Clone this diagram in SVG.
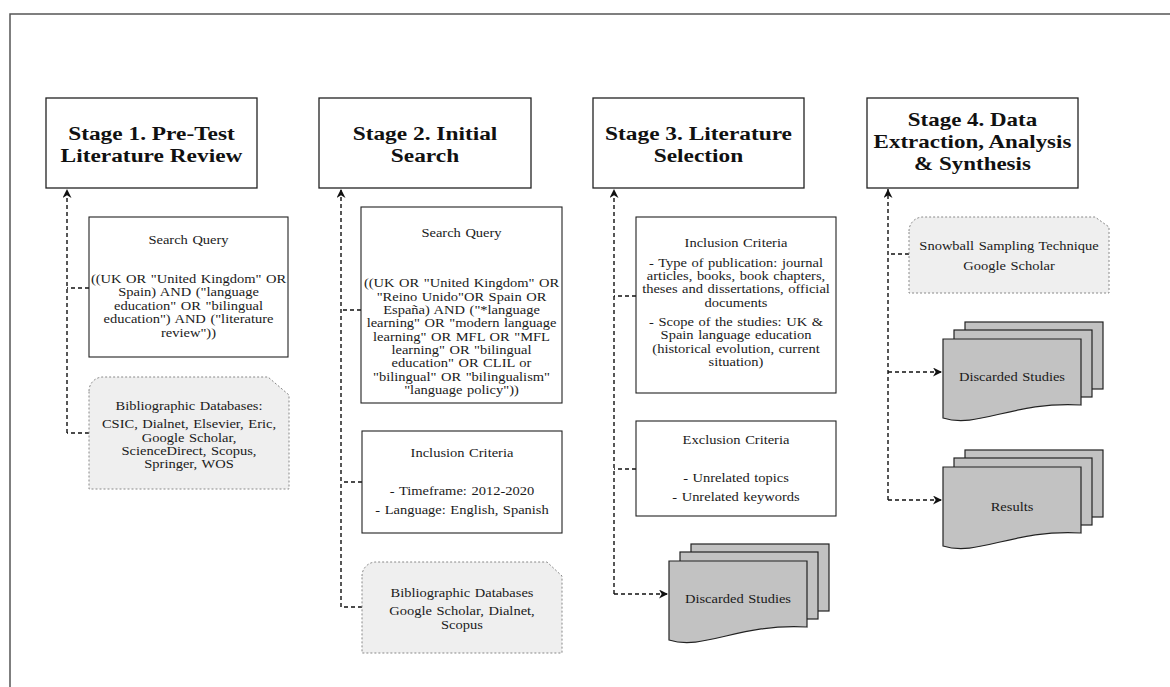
<svg xmlns="http://www.w3.org/2000/svg" xmlns:xlink="http://www.w3.org/1999/xlink" width="1170" height="687" viewBox="0 0 1170 687">
<style>
.frame{fill:none;stroke:#555;stroke-width:1.5}
.stage{fill:#fff;stroke:#222;stroke-width:1.3}
.box{fill:#fff;stroke:#222;stroke-width:1.1}
.note{fill:#efefef;stroke:#888;stroke-width:1;stroke-dasharray:2 2}
.doc{fill:#c2c2c2;stroke:#222;stroke-width:1.2}
.title{font-family:"Liberation Serif","Times New Roman",serif;font-weight:bold;font-size:19.8px;fill:#111;text-anchor:middle}
.t{font-family:"Liberation Serif","Times New Roman",serif;font-size:12.4px;fill:#1a1a1a;text-anchor:middle;word-spacing:0.8px}
.edge{fill:none;stroke:#111;stroke-width:1.4;stroke-dasharray:4 3}
</style>
<defs>
<marker id="arr" markerUnits="userSpaceOnUse" markerWidth="11" markerHeight="9" viewBox="0 0 10 10" refX="10" refY="5" orient="auto">
<path d="M0,0 L10,5 L0,10 L3,5 Z" fill="#111"/>
</marker>
<g id="stack">
<rect class="doc" x="22" y="-17" width="138" height="67"/>
<rect class="doc" x="11" y="-9" width="138" height="67"/>
<path class="doc" d="M0,0 H138 V66 C70,62 35,90 0,79 Z"/>
</g>
</defs>
<rect class="frame" x="10" y="14" width="1200" height="700"/>

<g id="connectors">
<path class="edge" d="M67,433 V189" marker-end="url(#arr)"/>
<path class="edge" d="M89,288 H67"/>
<path class="edge" d="M89,433 H67"/>
<path class="edge" d="M341,607 V189" marker-end="url(#arr)"/>
<path class="edge" d="M361,310 H341"/>
<path class="edge" d="M362,482 H341"/>
<path class="edge" d="M362,607 H341"/>
<path class="edge" d="M614,594 V189" marker-end="url(#arr)"/>
<path class="edge" d="M636,296 H614"/>
<path class="edge" d="M636,469 H614"/>
<path class="edge" d="M614,594 H668" marker-end="url(#arr)"/>
<path class="edge" d="M888,500 V189" marker-end="url(#arr)"/>
<path class="edge" d="M909,254 H888"/>
<path class="edge" d="M888,372 H942" marker-end="url(#arr)"/>
<path class="edge" d="M888,500 H942" marker-end="url(#arr)"/>
</g>

<g id="stage1">
<rect class="stage" x="46" y="98" width="211" height="90"/>
<g transform="translate(151.5 0) scale(1.18 1)">
<text class="title" x="0" y="140">Stage 1. Pre-Test</text>
<text class="title" x="0" y="162">Literature Review</text>
</g>
</g>
<g id="stage2">
<rect class="stage" x="319" y="98" width="212" height="90"/>
<g transform="translate(425 0) scale(1.18 1)">
<text class="title" x="0" y="140">Stage 2. Initial</text>
<text class="title" x="0" y="162">Search</text>
</g>
</g>
<g id="stage3">
<rect class="stage" x="593" y="98" width="211" height="90"/>
<g transform="translate(698.5 0) scale(1.18 1)">
<text class="title" x="0" y="140">Stage 3. Literature</text>
<text class="title" x="0" y="162">Selection</text>
</g>
</g>
<g id="stage4">
<rect class="stage" x="867" y="98" width="211" height="90"/>
<g transform="translate(972.5 0) scale(1.16 1)">
<text class="title" x="0" y="126">Stage 4. Data</text>
<text class="title" x="0" y="148">Extraction, Analysis</text>
<text class="title" x="0" y="170">&amp; Synthesis</text>
</g>
</g>

<g id="query1">
<rect class="box" x="89" y="217" width="199" height="140"/>
<g transform="translate(188.5 0) scale(1.17 1)">
<text class="t" x="0" y="244">Search Query</text>
<text class="t" x="0" y="283">((UK OR "United Kingdom" OR</text>
<text class="t" x="0" y="296">Spain) AND ("language</text>
<text class="t" x="0" y="310">education" OR "bilingual</text>
<text class="t" x="0" y="323">education") AND ("literature</text>
<text class="t" x="0" y="337">review"))</text>
</g>
</g>
<g id="biblio1">
<path class="note" d="M89,391 A14,14 0 0 1 103,377 H268 L289,395 V489 H89 Z"/>
<g transform="translate(189 0) scale(1.17 1)">
<text class="t" x="0" y="410">Bibliographic Databases:</text>
<text class="t" x="0" y="428">CSIC, Dialnet, Elsevier, Eric,</text>
<text class="t" x="0" y="442">Google Scholar,</text>
<text class="t" x="0" y="455">ScienceDirect, Scopus,</text>
<text class="t" x="0" y="468">Springer, WOS</text>
</g>
</g>

<g id="query2">
<rect class="box" x="361" y="207" width="201" height="196"/>
<g transform="translate(461.5 0) scale(1.17 1)">
<text class="t" x="0" y="237">Search Query</text>
<text class="t" x="0" y="287">((UK OR "United Kingdom" OR</text>
<text class="t" x="0" y="301">"Reino Unido"OR Spain OR</text>
<text class="t" x="0" y="314">España) AND ("*language</text>
<text class="t" x="0" y="327">learning" OR "modern language</text>
<text class="t" x="0" y="341">learning" OR MFL OR "MFL</text>
<text class="t" x="0" y="354">learning" OR "bilingual</text>
<text class="t" x="0" y="367">education" OR CLIL or</text>
<text class="t" x="0" y="381">"bilingual" OR "bilingualism"</text>
<text class="t" x="0" y="394">"language policy"))</text>
</g>
</g>
<g id="inclusion2">
<rect class="box" x="362" y="431" width="200" height="102"/>
<g transform="translate(462 0) scale(1.17 1)">
<text class="t" x="0" y="457">Inclusion Criteria</text>
<text class="t" x="0" y="495">- Timeframe: 2012-2020</text>
<text class="t" x="0" y="514">- Language: English, Spanish</text>
</g>
</g>
<g id="biblio2">
<path class="note" d="M362,576 A14,14 0 0 1 376,562 H547 L562,576 V653 H362 Z"/>
<g transform="translate(462 0) scale(1.17 1)">
<text class="t" x="0" y="597">Bibliographic Databases</text>
<text class="t" x="0" y="615">Google Scholar, Dialnet,</text>
<text class="t" x="0" y="629">Scopus</text>
</g>
</g>

<g id="inclusion3">
<rect class="box" x="636" y="217" width="200" height="176"/>
<g transform="translate(736 0) scale(1.17 1)">
<text class="t" x="0" y="247">Inclusion Criteria</text>
<text class="t" x="0" y="267">- Type of publication: journal</text>
<text class="t" x="0" y="280">articles, books, book chapters,</text>
<text class="t" x="0" y="293">theses and dissertations, official</text>
<text class="t" x="0" y="307">documents</text>
<text class="t" x="0" y="326">- Scope of the studies: UK &amp;</text>
<text class="t" x="0" y="339">Spain language education</text>
<text class="t" x="0" y="353">(historical evolution, current</text>
<text class="t" x="0" y="366">situation)</text>
</g>
</g>
<g id="exclusion3">
<rect class="box" x="636" y="421" width="200" height="95"/>
<g transform="translate(736 0) scale(1.17 1)">
<text class="t" x="0" y="444">Exclusion Criteria</text>
<text class="t" x="0" y="482">- Unrelated topics</text>
<text class="t" x="0" y="501">- Unrelated keywords</text>
</g>
</g>
<g id="discarded3">
<use xlink:href="#stack" x="669" y="561"/>
<g transform="translate(738 0) scale(1.17 1)">
<text class="t" x="0" y="603">Discarded Studies</text>
</g>
</g>

<g id="snowball">
<path class="note" d="M909,231 A14,14 0 0 1 923,217 H1095 L1109,227 V293 H909 Z"/>
<g transform="translate(1009 0) scale(1.17 1)">
<text class="t" x="0" y="250">Snowball Sampling Technique</text>
<text class="t" x="0" y="270">Google Scholar</text>
</g>
</g>
<g id="discarded4">
<use xlink:href="#stack" x="943" y="339"/>
<g transform="translate(1012 0) scale(1.17 1)">
<text class="t" x="0" y="381">Discarded Studies</text>
</g>
</g>
<g id="results">
<use xlink:href="#stack" x="943" y="467"/>
<g transform="translate(1012 0) scale(1.17 1)">
<text class="t" x="0" y="511">Results</text>
</g>
</g>
</svg>
